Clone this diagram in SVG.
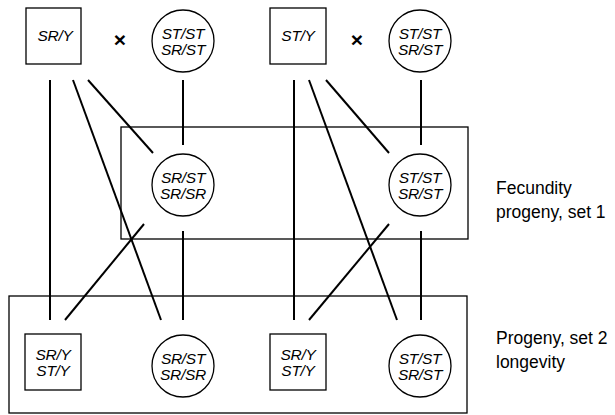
<svg xmlns="http://www.w3.org/2000/svg" width="615" height="415" viewBox="0 0 615 415">
<style>
.box{fill:none;stroke:#000;stroke-width:1.3}
.node{fill:#fff;stroke:#000;stroke-width:1.3}
.lnk{stroke:#000;stroke-width:2;fill:none;stroke-linecap:butt}
.nt{font-family:"Liberation Sans",Arial,sans-serif;font-style:italic;font-size:15.5px;letter-spacing:-0.3px;text-anchor:middle;fill:#000}
.lbl{font-family:"Liberation Sans",Arial,sans-serif;font-size:17.5px;fill:#000}
.x{font-family:"Liberation Sans",Arial,sans-serif;font-size:21px;font-weight:bold;text-anchor:middle;fill:#000}
</style>
<rect width="615" height="415" fill="#fff"/>
<g id="groups">
<rect class="box" x="121" y="127" width="347" height="112"/>
<rect class="box" x="9" y="296" width="458" height="117"/>
</g>
<g id="connectors">
<line class="lnk" x1="50" y1="80" x2="50" y2="320"/>
<line class="lnk" x1="73" y1="80" x2="161" y2="320"/>
<line class="lnk" x1="88" y1="80" x2="153" y2="153"/>
<line class="lnk" x1="183" y1="80" x2="183" y2="145"/>
<line class="lnk" x1="183" y1="231" x2="183" y2="320"/>
<line class="lnk" x1="144" y1="224" x2="65" y2="320"/>
<line class="lnk" x1="294" y1="80" x2="294" y2="320"/>
<line class="lnk" x1="309" y1="80" x2="397" y2="320"/>
<line class="lnk" x1="326" y1="80" x2="389" y2="153"/>
<line class="lnk" x1="421" y1="80" x2="421" y2="145"/>
<line class="lnk" x1="421" y1="231" x2="421" y2="320"/>
<line class="lnk" x1="389" y1="224" x2="309" y2="320"/>
</g>
<g id="p1"><rect class="node" x="26" y="8" width="55" height="56"/><text class="nt" x="55" y="41">SR/Y</text></g>
<text class="x" x="120" y="47">×</text>
<g id="p2"><circle class="node" cx="183" cy="41" r="31"/><text class="nt" x="183" y="39">ST/ST</text><text class="nt" x="183" y="55">SR/ST</text></g>
<g id="p3"><rect class="node" x="270" y="8" width="56" height="56"/><text class="nt" x="298" y="41">ST/Y</text></g>
<text class="x" x="357" y="47">×</text>
<g id="p4"><circle class="node" cx="420" cy="41" r="31"/><text class="nt" x="420" y="39">ST/ST</text><text class="nt" x="420" y="55">SR/ST</text></g>
<g id="f1"><circle class="node" cx="183" cy="185" r="31"/><text class="nt" x="183" y="183">SR/ST</text><text class="nt" x="183" y="199">SR/SR</text></g>
<g id="f2"><circle class="node" cx="420" cy="185" r="31"/><text class="nt" x="420" y="183">ST/ST</text><text class="nt" x="420" y="199">SR/ST</text></g>
<g id="l1"><rect class="node" x="25" y="334" width="56" height="56"/><text class="nt" x="53" y="360">SR/Y</text><text class="nt" x="53" y="376">ST/Y</text></g>
<g id="l2"><circle class="node" cx="183" cy="366" r="31"/><text class="nt" x="183" y="364">SR/ST</text><text class="nt" x="183" y="380">SR/SR</text></g>
<g id="l3"><rect class="node" x="270" y="334" width="56" height="56"/><text class="nt" x="298" y="360">SR/Y</text><text class="nt" x="298" y="376">ST/Y</text></g>
<g id="l4"><circle class="node" cx="420" cy="366" r="31"/><text class="nt" x="420" y="364">ST/ST</text><text class="nt" x="420" y="380">SR/ST</text></g>
<g id="labels">
<text class="lbl" x="496" y="194">Fecundity</text>
<text class="lbl" x="496" y="218">progeny, set 1</text>
<text class="lbl" x="496" y="344">Progeny, set 2</text>
<text class="lbl" x="496" y="368">longevity</text>
</g>
</svg>
